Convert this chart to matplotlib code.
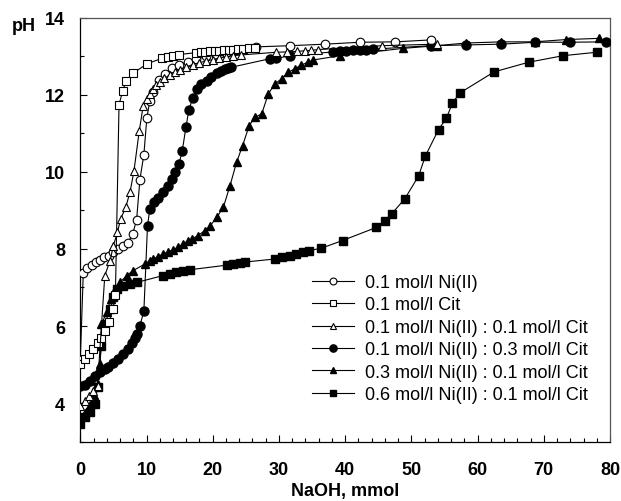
import matplotlib
matplotlib.use("Agg")
import matplotlib.pyplot as plt
from matplotlib.ticker import MultipleLocator

plt.rcParams['font.family'] = ['Liberation Sans', 'DejaVu Sans']

# --- data (NaOH mmol, pH) ---
ni_x = [0, 0.45, 1.05, 1.7, 2.3, 3.0, 3.6, 4.3, 5.0, 5.7, 6.5, 7.2, 7.9, 8.5, 9.0, 9.6,
        10.05, 10.5, 11.0, 11.9, 12.8, 13.8, 14.9, 16.2, 17.5, 19.0, 20.5, 22.0, 24.0,
        26.6, 31.7, 37.0, 42.3, 47.6, 52.9]
ni_ph = [5.12, 7.37, 7.5, 7.59, 7.65, 7.72, 7.8, 7.83, 7.93, 8.0, 8.09, 8.16, 8.39, 8.75,
         9.8, 10.45, 11.4, 11.85, 12.09, 12.39, 12.55, 12.69, 12.79, 12.86, 12.93, 13.0,
         13.05, 13.1, 13.17, 13.25, 13.28, 13.32, 13.37, 13.38, 13.43]

cit_x = [0, 0.7, 1.36, 1.96, 2.6, 3.2, 3.8, 4.4, 4.9, 5.3, 5.85, 6.4, 6.9, 8.0, 10.1,
         12.3, 13.3, 14.0, 14.9, 17.5, 18.2, 18.9, 19.6, 20.3, 21.0, 21.7, 22.4, 23.1,
         23.8, 24.5, 25.5, 26.4]
cit_ph = [5.01, 5.14, 5.27, 5.4, 5.56, 5.69, 5.88, 6.11, 6.44, 6.8, 11.75, 12.1, 12.36,
          12.57, 12.81, 12.95, 12.98, 13.0, 13.05, 13.1, 13.11, 13.12, 13.13, 13.14,
          13.15, 13.16, 13.17, 13.18, 13.19, 13.2, 13.21, 13.22]

r11_x = [0, 0.7, 1.36, 1.96, 2.6, 3.7, 4.5, 5.0, 5.6, 6.1, 6.85, 7.5, 8.1, 8.9, 9.5,
         10.0, 10.5, 11.0, 11.5, 12.0, 12.7, 13.5, 14.3, 15.0, 16.0, 17.0, 18.0, 19.0,
         20.0, 21.0, 22.0, 23.0, 24.3, 29.6, 31.2, 32.8, 33.9, 34.9, 35.9, 45.5, 53.8]
r11_ph = [3.93, 4.06, 4.19, 4.32, 4.45, 7.31, 7.7, 8.09, 8.43, 8.78, 9.08, 9.47, 10.02,
          11.06, 11.72, 11.9, 12.03, 12.15, 12.25, 12.33, 12.43, 12.52, 12.6, 12.66,
          12.73, 12.79, 12.84, 12.88, 12.92, 12.96, 12.99, 13.02, 13.04, 13.11, 13.12,
          13.13, 13.15, 13.16, 13.18, 13.28, 13.32]

r13_x = [0, 0.7, 1.4, 2.2, 3.0, 3.7, 4.2, 5.0, 5.7, 6.4, 7.2, 7.8, 8.25, 8.5, 9.0, 9.6,
         10.15, 10.5, 11.1, 11.8, 12.5, 13.3, 13.8, 14.3, 14.9, 15.4, 15.95, 16.4, 16.95,
         17.55, 18.3, 19.1, 19.8, 20.6, 21.3, 21.8, 22.3, 22.8, 28.6, 29.6, 31.7, 38.2,
         39.2, 40.2, 41.2, 42.2, 43.2, 44.2, 52.9, 58.3, 63.6, 68.7, 74.0, 79.4]
r13_ph = [4.45, 4.47, 4.58, 4.71, 4.8, 4.88, 4.93, 5.03, 5.14, 5.26, 5.4, 5.55, 5.7, 5.79,
          6.01, 6.38, 8.6, 9.04, 9.21, 9.32, 9.47, 9.64, 9.82, 9.99, 10.21, 10.55, 11.16,
          11.61, 11.91, 12.16, 12.29, 12.37, 12.46, 12.57, 12.63, 12.68, 12.7, 12.72,
          12.94, 12.95, 13.02, 13.12, 13.13, 13.15, 13.16, 13.17, 13.18, 13.19, 13.28,
          13.3, 13.32, 13.37, 13.37, 13.38]

r31_x = [0, 0.7, 1.4, 2.0, 2.6, 3.0, 3.2, 4.0, 4.6, 5.2, 6.0, 7.0, 8.0, 9.75, 10.5, 11.0,
         11.7, 12.5, 13.2, 14.0, 14.8, 15.5, 16.2, 16.8, 17.8, 18.8, 19.6, 20.6, 21.6,
         22.6, 23.6, 24.5, 25.5, 26.35, 27.4, 28.4, 29.4, 30.4, 31.4, 32.4, 33.4, 34.4,
         35.2, 39.2, 48.7, 53.8, 58.3, 63.6, 68.6, 73.4, 78.3]
r31_ph = [3.55, 3.75, 3.95, 4.2, 4.5, 5.01, 6.05, 6.36, 6.7, 6.96, 7.13, 7.31, 7.44, 7.61,
          7.7, 7.74, 7.8, 7.87, 7.92, 7.98, 8.05, 8.13, 8.2, 8.26, 8.35, 8.48, 8.6, 8.82,
          9.08, 9.64, 10.25, 10.68, 11.2, 11.42, 11.51, 12.03, 12.29, 12.42, 12.59, 12.68,
          12.78, 12.85, 12.91, 13.02, 13.21, 13.28, 13.35, 13.38, 13.38, 13.44, 13.47]

r61_x = [0, 0.7, 1.46, 2.2, 2.6, 3.2, 3.7, 4.5, 5.0, 5.5, 6.5, 7.5, 8.5, 12.5, 13.5, 14.5,
         15.5, 16.5, 22.1, 23.1, 24.1, 24.8, 29.4, 30.4, 31.6, 32.6, 33.6, 34.6, 36.4,
         39.6, 44.7, 46.0, 47.0, 49.0, 51.1, 52.1, 54.1, 55.3, 56.2, 57.3, 62.5, 67.7,
         72.9, 78.0]
r61_ph = [3.45, 3.63, 3.76, 3.97, 4.41, 5.49, 6.05, 6.44, 6.75, 6.96, 7.03, 7.09, 7.13,
          7.31, 7.35, 7.39, 7.44, 7.46, 7.58, 7.61, 7.64, 7.66, 7.74, 7.78, 7.83, 7.87,
          7.91, 7.96, 8.02, 8.22, 8.56, 8.74, 8.91, 9.3, 9.9, 10.41, 11.1, 11.4, 11.79,
          12.05, 12.6, 12.85, 13.02, 13.11]

labels = ["0.1 mol/l Ni(II)",
          "0.1 mol/l Cit",
          "0.1 mol/l Ni(II) : 0.1 mol/l Cit",
          "0.1 mol/l Ni(II) : 0.3 mol/l Cit",
          "0.3 mol/l Ni(II) : 0.1 mol/l Cit",
          "0.6 mol/l Ni(II) : 0.1 mol/l Cit"]

fig = plt.figure(figsize=(6.21, 5.02), dpi=100)
ax = fig.add_axes([0.1293, 0.1185, 0.853, 0.8437])

lw = 0.8
ax.plot(ni_x, ni_ph, '-o', color='black', mfc='white', mec='black', ms=6.2, mew=0.8, lw=lw,
        label=labels[0], zorder=4)
ax.plot(cit_x, cit_ph, '-s', color='black', mfc='white', mec='black', ms=5.2, mew=0.8, lw=lw,
        label=labels[1], zorder=4)
ax.plot(r11_x, r11_ph, '-^', color='black', mfc='white', mec='black', ms=5.8, mew=0.8, lw=lw,
        label=labels[2], zorder=4)
ax.plot(r13_x, r13_ph, '-o', color='black', ms=6.5, lw=lw, label=labels[3], zorder=3)
ax.plot(r31_x, r31_ph, '-^', color='black', ms=6.2, lw=lw, label=labels[4], zorder=3)
ax.plot(r61_x, r61_ph, '-s', color='black', ms=5.6, lw=lw, label=labels[5], zorder=3)

ax.set_xlim(0, 80)
ax.set_ylim(3, 14)
ax.xaxis.set_major_locator(MultipleLocator(10))
ax.xaxis.set_minor_locator(MultipleLocator(2))
ax.yaxis.set_major_locator(MultipleLocator(2))
ax.yaxis.set_minor_locator(MultipleLocator(1))
ax.tick_params(which='both', direction='in', top=False, right=False,
               labelsize=13, width=0.8)
ax.tick_params(which='major', length=5)
ax.tick_params(which='minor', length=3)
ax.tick_params(axis='x', which='major', pad=14)
ax.tick_params(axis='y', which='major', pad=11)
for lab in ax.get_xticklabels() + ax.get_yticklabels():
    lab.set_fontweight('bold')

for side in ['left', 'bottom']:
    ax.spines[side].set_linewidth(0.9)
for side in ['top', 'right']:
    ax.spines[side].set_linewidth(0.9)
    ax.spines[side].set_color('#555555')

ax.set_xlabel("NaOH, mmol", fontsize=13, fontweight='bold', labelpad=3)
fig.text(0.019, 0.938, "pH", fontsize=13, fontweight='bold', ha='left', va='baseline')

ax.legend(loc='upper left', bbox_to_anchor=(312 / 621, 1 - 275 / 502),
          bbox_transform=fig.transFigure, frameon=False, fontsize=13,
          borderpad=0, borderaxespad=0, handlelength=2.3, handletextpad=0.65,
          labelspacing=0.3, markerscale=0.8)

fig.savefig("out.png", dpi=100)
